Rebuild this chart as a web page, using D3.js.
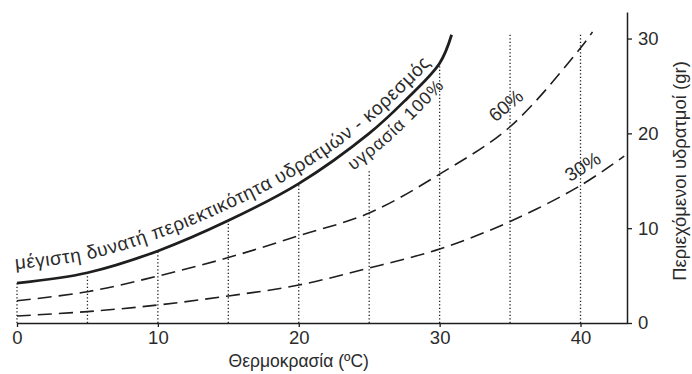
<!DOCTYPE html>
<html><head><meta charset="utf-8">
<script src="https://cdn.jsdelivr.net/npm/d3@7"></script>
<style>
body{margin:0;background:#fff}
svg{display:block}
text{font-family:"Liberation Sans",Arial,sans-serif;fill:#2b2b2b}
</style>
</head><body><svg id="c" width="692" height="374"></svg>
<script>
// ---- data ----
const temps100 = [0, 5, 10, 15, 20, 25, 27.5, 30, 30.85];
const hum100   = [4.2, 5.3, 7.6, 10.8, 14.7, 20.0, 23.4, 27.4, 30.4];
const temps60  = [0, 5, 10, 15, 20, 25, 30, 35, 40, 40.85];
const hum60    = [2.35, 3.3, 4.95, 6.9, 9.2, 11.6, 15.7, 20.7, 29.0, 30.7];
const temps30  = [0, 5, 10, 15, 20, 25, 30, 35, 40, 43.1];
const hum30    = [0.74, 1.2, 1.9, 2.85, 4.0, 5.8, 7.8, 10.7, 14.5, 17.6];
const gridTemps = [0, 5, 10, 15, 20, 25, 30, 35, 40];
const gridTops  = [4.2, 5.3, 7.6, 10.8, 14.7, 16.1, 27.2, 30.4, 30.5];
const xTicks = [0, 10, 20, 30, 40];
const yTicks = [0, 10, 20, 30];
const xTitle = "Θερμοκρασία (ºC)";
const yTitle = "Περιεχόμενοι υδρατμοί (gr)";
const curveLabel = "μέγιστη δυνατή περιεκτικότητα υδρατμών - κορεσμός";
const label100 = "υγρασία 100%";
const label60 = "60%";
const label30 = "30%";

// ---- scales ----
const svg = d3.select("#c");
const x = d3.scaleLinear().domain([0, 43.3]).range([17, 627]);
const y = d3.scaleLinear().domain([0, 32.8]).range([323, 12]);
const ink = "#1e1e1e";

const line = d3.line().x(d => x(d[0])).y(d => y(d[1])).curve(d3.curveCatmullRom.alpha(0.5));

// dotted verticals
svg.append("g").selectAll("line").data(gridTemps.map((t, i) => [t, gridTops[i]])).join("line")
  .attr("x1", d => x(d[0])).attr("x2", d => x(d[0]))
  .attr("y1", y(0)).attr("y2", d => y(d[1]))
  .attr("stroke", ink).attr("stroke-width", 1.3).attr("stroke-dasharray", "1.3,2.2");

// axes
const xAxis = svg.append("g").attr("transform", `translate(0,${y(0)})`)
  .call(d3.axisBottom(x).tickValues(xTicks).tickSize(4).tickSizeOuter(0).tickPadding(4));
const yAxis = svg.append("g").attr("transform", `translate(${x(43.3)},0)`)
  .call(d3.axisRight(y).tickValues(yTicks).tickSize(5).tickSizeOuter(0).tickPadding(6));
[xAxis, yAxis].forEach(g => {
  g.select(".domain").attr("stroke", ink).attr("stroke-width", 1.5);
  g.selectAll(".tick line").attr("stroke", ink).attr("stroke-width", 1.3);
  g.selectAll(".tick text").attr("font-size", 18.5).attr("font-family", '"Liberation Sans",Arial,sans-serif').attr("fill", "#2b2b2b");
});

// curves
const p100 = svg.append("path").datum(temps100.map((t, i) => [t, hum100[i]]))
  .attr("d", line).attr("fill", "none").attr("stroke", ink).attr("stroke-width", 2.8);
svg.append("path").datum(temps60.map((t, i) => [t, hum60[i]]))
  .attr("d", line).attr("fill", "none").attr("stroke", ink).attr("stroke-width", 1.6).attr("stroke-dasharray", "14,7");
svg.append("path").datum(temps30.map((t, i) => [t, hum30[i]]))
  .attr("d", line).attr("fill", "none").attr("stroke", ink).attr("stroke-width", 1.6).attr("stroke-dasharray", "14,7");

// offset path along the saturation curve (offset varies linearly with temperature)
function offsetPts(node, t0, t1, off0, off1) {
  const L = node.getTotalLength(), pts = [];
  for (let s = 0; s <= L; s += 1) {
    const p = node.getPointAtLength(s);
    const a = node.getPointAtLength(Math.max(0, s - 1));
    const b = node.getPointAtLength(Math.min(L, s + 1));
    const dx = b.x - a.x, dy = b.y - a.y, n = Math.hypot(dx, dy) || 1;
    const nx = dy / n, ny = -dx / n;
    const T = x.invert(p.x);
    if (T >= t0 && T <= t1) {
      const off = off0 + (off1 - off0) * (T - t0) / (t1 - t0);
      pts.push([p.x + nx * off, p.y + ny * off]);
    }
  }
  return pts;
}
function pathLabel(id, pts, txt, size) {
  const pl = svg.append("path").attr("id", id).attr("d", d3.line()(pts)).attr("fill", "none");
  const len = pl.node().getTotalLength();
  svg.append("text").attr("font-size", size)
    .append("textPath").attr("href", "#" + id).text(txt)
    .attr("textLength", len).attr("lengthAdjust", "spacing");
}
pathLabel("lab1", offsetPts(p100.node(), 0, 29.8, 14, 7), curveLabel, 19);
pathLabel("lab2", offsetPts(p100.node(), 23.0, 29.4, -20, -18), label100, 17.5);

// percentage labels
svg.append("text").attr("font-size", 19).attr("text-anchor", "middle")
  .attr("transform", `translate(${x(35.0)},${y(22.4)}) rotate(-40)`).text(label60);
svg.append("text").attr("font-size", 19).attr("text-anchor", "middle")
  .attr("transform", `translate(${x(40.4)},${y(15.9)}) rotate(-32)`).text(label30);

// titles
svg.append("text").attr("font-size", 17.5).attr("text-anchor", "middle")
  .attr("x", x(20)).attr("y", 367).text(xTitle);
svg.append("text").attr("font-size", 18.5).attr("text-anchor", "middle")
  .attr("transform", `translate(686,171) rotate(-90)`).text(yTitle);
</script></body></html>
